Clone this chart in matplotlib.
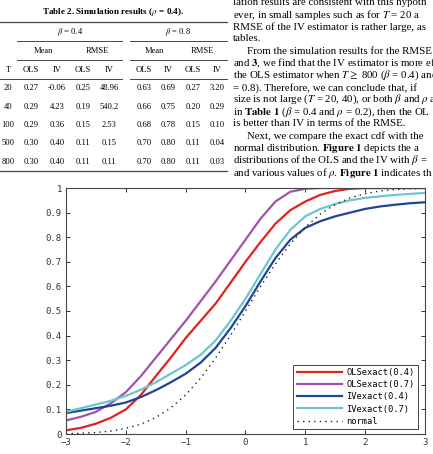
import matplotlib
matplotlib.use("Agg")
import matplotlib.pyplot as plt
from matplotlib.lines import Line2D

plt.rcParams['mathtext.fontset'] = 'stix'

# ---- table data (Table 2, rho = 0.4) ----
T_vals = ['20', '40', '100', '500', '800']
mean_ols_04 = ['0.27', '0.29', '0.29', '0.30', '0.30']
mean_iv_04 = ['-0.06', '4.23', '0.36', '0.40', '0.40']
rmse_ols_04 = ['0.25', '0.19', '0.15', '0.11', '0.11']
rmse_iv_04 = ['48.96', '540.2', '2.53', '0.15', '0.11']
mean_ols_08 = ['0.63', '0.66', '0.68', '0.70', '0.70']
mean_iv_08 = ['0.69', '0.75', '0.78', '0.80', '0.80']
rmse_ols_08 = ['0.27', '0.20', '0.15', '0.11', '0.11']
rmse_iv_08 = ['3.20', '0.29', '0.10', '0.04', '0.03']

# ---- body text next to the table (as far as it is visible) ----
body_lines = [
    "lation results are consistent with this hypoth",
    "ever, in small samples such as for $T$ = 20 a",
    "RMSE of the IV estimator is rather large, as",
    "tables.",
    "From the simulation results for the RMSE",
    r"and $\mathbf{3}$, we find that the IV estimator is more ef",
    r"the OLS estimator when $T \geq$ 800 ($\beta$ = 0.4) and",
    "= 0.8). Therefore, we can conclude that, if",
    r"size is not large ($T$ = 20, 40), or both $\beta$ and $\rho$ a",
    r"in $\mathbf{Table\ 1}$ ($\beta$ = 0.4 and $\rho$ = 0.2), then the OL",
    "is better than IV in terms of the RMSE.",
    "Next, we compare the exact cdf with the",
    r"normal distribution. $\mathbf{Figure\ 1}$ depicts the a",
    r"distributions of the OLS and the IV with $\beta$ =",
    r"and various values of $\rho$. $\mathbf{Figure\ 1}$ indicates th",
]
indented = [4, 11]

# ---- cdf curves ----
x = [-3, -2.75, -2.5, -2.25, -2, -1.75, -1.5, -1.25, -1, -0.75, -0.5, -0.25, 0,
     0.25, 0.5, 0.75, 1, 1.25, 1.5, 1.75, 2, 2.25, 2.5, 2.75, 3]
ols_04 = [0.015, 0.025, 0.042, 0.066, 0.10, 0.158, 0.235, 0.31, 0.39, 0.46, 0.53, 0.615,
          0.70, 0.78, 0.855, 0.91, 0.945, 0.972, 0.988, 0.997, 1.0, 1.0, 1.0, 1.0, 1.0]
ols_07 = [0.055, 0.07, 0.09, 0.125, 0.17, 0.235, 0.31, 0.385, 0.46, 0.54, 0.62, 0.705,
          0.79, 0.875, 0.945, 0.985, 0.997, 1.0, 1.0, 1.0, 1.0, 1.0, 1.0, 1.0, 1.0]
iv_04 = [0.085, 0.095, 0.105, 0.115, 0.128, 0.15, 0.178, 0.21, 0.245, 0.29, 0.35, 0.43,
         0.52, 0.62, 0.715, 0.79, 0.838, 0.865, 0.885, 0.90, 0.915, 0.925, 0.932, 0.938, 0.942]
iv_07 = [0.09, 0.105, 0.12, 0.135, 0.155, 0.18, 0.21, 0.245, 0.28, 0.322, 0.38, 0.46,
         0.55, 0.65, 0.75, 0.83, 0.885, 0.915, 0.935, 0.95, 0.96, 0.966, 0.972, 0.976, 0.98]
normal = [0.001, 0.003, 0.006, 0.012, 0.023, 0.040, 0.067, 0.106, 0.159, 0.227, 0.309, 0.401,
          0.5, 0.599, 0.691, 0.773, 0.841, 0.894, 0.933, 0.960, 0.977, 0.988, 0.994, 0.997, 0.999]

W, H = 433, 454
fig = plt.figure(figsize=(W / 100, H / 100), dpi=100)


def fx(px):
    return px / W


def fy(py):
    return 1 - py / H


serif = 'Liberation Serif'

# table
fig.text(fx(113), fy(12), r"Table 2. Simulation results ($\rho$ = 0.4).", ha='center', va='center',
         family=serif, weight='bold', fontsize=6.6)


def hline(x0, x1, y, lw=0.7):
    fig.add_artist(Line2D([fx(x0), fx(x1)], [fy(y), fy(y)], color='#444444', lw=lw))


hline(0, 227, 22, 0.9)
hline(17, 122, 41)
hline(130, 227, 41)
hline(17, 122, 60)
hline(130, 227, 60)
hline(0, 122, 79)
hline(130, 227, 79)
hline(0, 227, 171, 0.9)

tsize = 6.1
fig.text(fx(70), fy(32), r"$\beta$ = 0.4", ha='center', va='center', family=serif, fontsize=tsize)
fig.text(fx(178), fy(32), r"$\beta$ = 0.8", ha='center', va='center', family=serif, fontsize=tsize)
for lab, cx in zip(['Mean', 'RMSE', 'Mean', 'RMSE'], [43, 97, 154, 202]):
    fig.text(fx(cx), fy(51), lab, ha='center', va='center', family=serif, fontsize=tsize)
col_x = [8, 31, 57, 83, 109, 144, 168, 193, 217]
for lab, cx in zip(['T', 'OLS', 'IV', 'OLS', 'IV', 'OLS', 'IV', 'OLS', 'IV'], col_x):
    fig.text(fx(cx), fy(70), lab, ha='center', va='center', family=serif, fontsize=tsize)
cols = [T_vals, mean_ols_04, mean_iv_04, rmse_ols_04, rmse_iv_04,
        mean_ols_08, mean_iv_08, rmse_ols_08, rmse_iv_08]
row_y = [88, 107, 125, 143, 162]
for col, cx in zip(cols, col_x):
    for val, ry in zip(col, row_y):
        fig.text(fx(cx), fy(ry), val, ha='center', va='center', family=serif, fontsize=tsize)

# body text
for i, line in enumerate(body_lines):
    lx = 247 if i in indented else 233
    fig.text(fx(lx), fy(2.5 + i * 12.15), line, ha='left', va='center', family=serif, fontsize=7.8)

# chart
ax = fig.add_axes([fx(66), fy(434), (425 - 66) / W, (434 - 188) / H])
ax.plot(x, ols_04, color='#e3221c', lw=1.6, label='OLSexact(0.4)')
ax.plot(x, ols_07, color='#a251ad', lw=1.6, label='OLSexact(0.7)')
ax.plot(x, iv_04, color='#1f4594', lw=1.6, label='IVexact(0.4)')
ax.plot(x, iv_07, color='#6cc5d1', lw=1.6, label='IVexact(0.7)')
ax.plot(x, normal, color='#222222', lw=1.0, linestyle=(0, (1, 3)), label='normal')

ax.set_xlim(-3, 3)
ax.set_ylim(0, 1)
ax.set_xticks([-3, -2, -1, 0, 1, 2, 3])
ax.set_yticks([0, 0.1, 0.2, 0.3, 0.4, 0.5, 0.6, 0.7, 0.8, 0.9, 1])
ax.set_yticklabels(['0', '0.1', '0.2', '0.3', '0.4', '0.5', '0.6', '0.7', '0.8', '0.9', '1'])
ax.tick_params(direction='in', length=3, width=0.7, top=True, right=True,
               labelsize=6.5, colors='#333333', pad=3)
for lab in ax.get_xticklabels() + ax.get_yticklabels():
    lab.set_family('DejaVu Sans Mono')
for sp in ax.spines.values():
    sp.set_color('#444444')
    sp.set_linewidth(0.8)

leg = ax.legend(loc='lower right', bbox_to_anchor=(0.981, 0.02), borderaxespad=0,
                fancybox=False, edgecolor='#444444', framealpha=1,
                prop={'family': 'DejaVu Sans Mono', 'size': 6.3},
                handlelength=5.2, handletextpad=0.5, labelspacing=0.35,
                borderpad=0.4)
leg.get_frame().set_linewidth(0.7)

fig.savefig('out.png', dpi=100)
